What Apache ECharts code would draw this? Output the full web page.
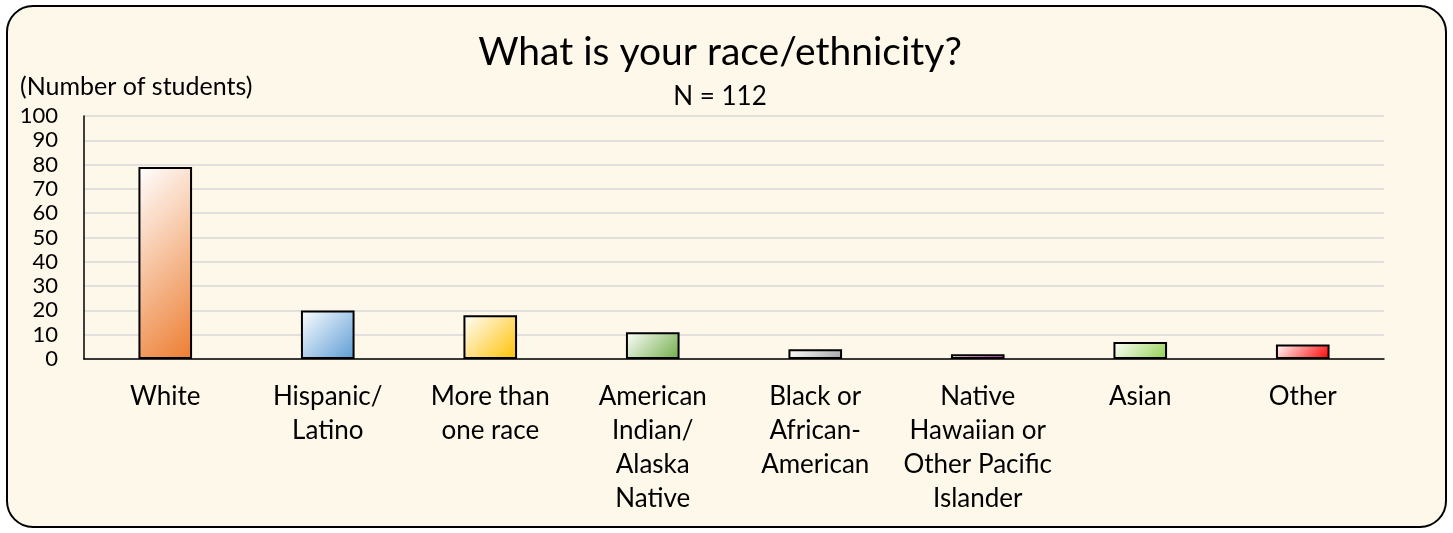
<!DOCTYPE html>
<html><head><meta charset="utf-8">
<script src="https://cdn.jsdelivr.net/npm/echarts@6/dist/echarts.min.js"></script>
<style>html,body{margin:0;padding:0;background:#fff}#c{width:1453px;height:533px}</style>
</head><body><div id="c"></div>
<script>
const categories = ["White","Hispanic/\nLatino","More than\none race","American\nIndian/\nAlaska\nNative","Black or\nAfrican-\nAmerican","Native\nHawaiian or\nOther Pacific\nIslander","Asian","Other"];
const values = [79,20,18,11,4,2,7,6];
const barColors = ["#ED7D31","#5B9BD5","#FFC000","#70AD47","#A5A5A5","#E23CDA","#92D050","#FF0000"];
const yTicks = [0,10,20,30,40,50,60,70,80,90,100];
const FONT = "Lato";
const chart = echarts.init(document.getElementById('c'));
function grad(i, w, h){
  // 45-degree diagonal gradient in pixel space
  const x2 = (w + h) / (2 * w), y2 = (w + h) / (2 * h);
  return new echarts.graphic.LinearGradient(0,0,x2,y2,[{offset:0,color:'#FFFFFF'},{offset:1,color:barColors[i]}]);
}
function seriesData(w, hs){
  return values.map((v,i)=>({value:v,itemStyle:{color:grad(i,w,hs[i]),borderColor:'#000',borderWidth:2}}));
}
chart.setOption({
  animation:false,
  graphic:[
    {type:'rect',z:-10,shape:{x:7,y:6,width:1439,height:521,r:26},style:{fill:'#FEF8EA',stroke:'#000',lineWidth:2}},
    {type:'text',x:720,y:52,style:{text:'What is your race/ethnicity?',textAlign:'center',textVerticalAlign:'middle',font:'39px '+FONT,fill:'#000'}},
    {type:'text',x:720,y:97,style:{text:'N = 112',textAlign:'center',textVerticalAlign:'middle',font:'26px '+FONT,fill:'#000'}},
    {type:'text',x:20,y:87,style:{text:'(Number of students)',textAlign:'left',textVerticalAlign:'middle',font:'25px '+FONT,fill:'#000'}}
  ],
  grid:{left:84,right:69,top:116,bottom:174},
  xAxis:{type:'category',data:categories,
    axisLine:{lineStyle:{color:'#000',width:1.5}},axisTick:{show:false},
    axisLabel:{fontFamily:FONT,fontSize:26,color:'#000',lineHeight:34,margin:21,interval:0}},
  yAxis:{type:'value',min:0,max:100,interval:10,
    axisLine:{show:true,lineStyle:{color:'#000',width:1.5}},axisTick:{show:false},
    axisLabel:{fontFamily:FONT,fontSize:22,color:'#000',margin:26,formatter:v=>yTicks.includes(v)?String(v):''},
    splitLine:{lineStyle:{color:'#D9D9D9',width:1.5}}},
  series:[{type:'bar',barWidth:'33%',data:seriesData(53, values.map(()=>100))}]
});
// compute bar pixel sizes from the chart's own scales
const p0 = chart.convertToPixel({gridIndex:0},[0,0]);
const p1 = chart.convertToPixel({gridIndex:0},[1,0]);
const w = (p1[0]-p0[0]) * 0.33;
const hs = values.map(v => Math.max(1, p0[1] - chart.convertToPixel({gridIndex:0},[0,v])[1]));
chart.setOption({series:[{data:seriesData(w, hs)}]});
</script></body></html>
